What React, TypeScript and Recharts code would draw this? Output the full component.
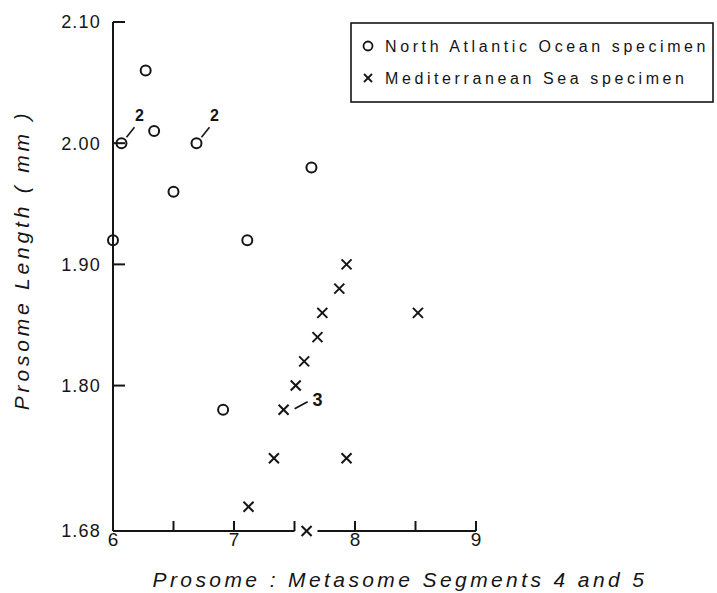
import React from 'react';
import { ScatterChart, Scatter, XAxis, YAxis, ReferenceLine, Label } from 'recharts';

// ---- data ----
const atlanticX = [6.0, 6.07, 6.27, 6.34, 6.5, 6.69, 7.11, 7.64, 6.91];
const atlanticY = [1.92, 2.0, 2.06, 2.01, 1.96, 2.0, 1.92, 1.98, 1.78];
const atlanticNotes = ['', '2', '', '', '', '2', '', '', ''];

const medX = [7.93, 7.87, 7.73, 8.52, 7.69, 7.58, 7.51, 7.41, 7.33, 7.93, 7.12, 7.6];
const medY = [1.9, 1.88, 1.86, 1.86, 1.84, 1.82, 1.8, 1.78, 1.74, 1.74, 1.7, 1.68];
const medNotes = ['', '', '', '', '', '', '', '3', '', '', '', ''];

const xTicks = [6, 6.5, 7, 7.5, 8, 8.5, 9];
const xTickLabels = ['6', '', '7', '', '8', '', '9'];
const yTicks = [1.68, 1.8, 1.9, 2.0, 2.1];
const yTickLabels = ['1.68', '1.80', '1.90', '2.00', '2.10'];
const xDomain = [6, 9];
const yDomain = [1.68, 2.1];
const xAxisGap = [7.5, 7.69];

const seriesNames = ['North Atlantic Ocean specimen', 'Mediterranean Sea specimen'];
const xTitle = 'Prosome : Metasome  Segments  4 and 5';
const yTitle = 'Prosome  Length  ( mm )';

const atlanticData = atlanticX.map((x, i) => ({ x, y: atlanticY[i], note: atlanticNotes[i] }));
const medData = medX.map((x, i) => ({ x, y: medY[i], note: medNotes[i] }));

const INK = '#151515';
const FONT = '"Liberation Sans", Arial, sans-serif';

const CircleShape = (p: any) => {
  const { cx, cy, payload } = p;
  return (
    <g>
      <circle cx={cx} cy={cy} r={5} fill="none" stroke={INK} strokeWidth={2} />
      {payload && payload.note ? (
        <g>
          <line x1={cx + 5} y1={cy - 6} x2={cx + 13} y2={cy - 16} stroke={INK} strokeWidth={1.6} />
          <text x={cx + 18} y={cy - 22} textAnchor="middle" fontSize={16} fontWeight="bold" fontFamily={FONT} fill={INK}>
            {payload.note}
          </text>
        </g>
      ) : null}
    </g>
  );
};

const CrossShape = (p: any) => {
  const { cx, cy, payload } = p;
  return (
    <g>
      <line x1={cx - 5} y1={cy - 5} x2={cx + 5} y2={cy + 5} stroke={INK} strokeWidth={2} />
      <line x1={cx - 5} y1={cy + 5} x2={cx + 5} y2={cy - 5} stroke={INK} strokeWidth={2} />
      {payload && payload.note ? (
        <g>
          <line x1={cx + 11} y1={cy - 1} x2={cx + 24} y2={cy - 8} stroke={INK} strokeWidth={1.8} />
          <text x={cx + 34} y={cy - 4} textAnchor="middle" fontSize={18} fontWeight="bold" fontFamily={FONT} fill={INK}>
            {payload.note}
          </text>
        </g>
      ) : null}
    </g>
  );
};

const XTick = (p: any) => {
  const { x, y, payload } = p;
  const i = xTicks.indexOf(payload.value);
  const lbl = i >= 0 ? xTickLabels[i] : '';
  return (
    <text x={x} y={y} dy="0.71em" textAnchor="middle" fontSize={19} fontFamily={FONT} fill={INK}>
      {lbl}
    </text>
  );
};

const YTick = (p: any) => {
  const { x, y, payload } = p;
  const i = yTicks.indexOf(payload.value);
  const lbl = i >= 0 ? yTickLabels[i] : '';
  return (
    <text x={x + 1} y={y} dy="0.355em" textAnchor="end" fontSize={18} letterSpacing={1.2} fontFamily={FONT} fill={INK}>
      {lbl}
    </text>
  );
};

const LegendBox = () => (
  <svg width={364} height={81} style={{ display: 'block' }}>
    <rect x={1} y={1} width={362} height={79} fill="white" stroke={INK} strokeWidth={1.6} />
    <circle cx={18} cy={24} r={4.5} fill="none" stroke={INK} strokeWidth={1.8} />
    <text x={35} y={30} fontSize={16} letterSpacing={3.6} fontFamily={FONT} fill={INK}>
      {seriesNames[0]}
    </text>
    <line x1={14} y1={52} x2={22} y2={60} stroke={INK} strokeWidth={1.8} />
    <line x1={14} y1={60} x2={22} y2={52} stroke={INK} strokeWidth={1.8} />
    <text x={35} y={62} fontSize={16} letterSpacing={3.6} fontFamily={FONT} fill={INK}>
      {seriesNames[1]}
    </text>
  </svg>
);

export default function App() {
  return (
    <div style={{ position: 'absolute', left: 0, top: 0, width: 717, height: 593, background: 'white' }}>
      <ScatterChart width={717} height={593} margin={{ top: 22, right: 241, bottom: 22, left: 0 }}>
        <XAxis
          type="number"
          dataKey="x"
          domain={xDomain}
          ticks={xTicks}
          interval={0}
          axisLine={false}
          tickLine={{ stroke: INK, strokeWidth: 2 }}
          tickSize={-10}
          tickMargin={12}
          tick={<XTick />}
          height={40}
        >
          <Label
            content={() => (
              <text x={400} y={587} textAnchor="middle" fontSize={21} fontStyle="italic" letterSpacing={3.4} fontFamily={FONT} fill={INK}>
                {xTitle}
              </text>
            )}
          />
        </XAxis>
        <YAxis
          type="number"
          dataKey="y"
          domain={yDomain}
          ticks={yTicks}
          interval={0}
          axisLine={{ stroke: INK, strokeWidth: 2 }}
          tickLine={{ stroke: INK, strokeWidth: 2 }}
          tickSize={-12}
          tickMargin={25}
          tick={<YTick />}
          width={113}
        >
          <Label
            content={() => (
              <text
                transform="translate(29,260) rotate(-90)"
                textAnchor="middle"
                fontSize={21}
                fontStyle="italic"
                letterSpacing={3.8}
                fontFamily={FONT}
                fill={INK}
              >
                {yTitle}
              </text>
            )}
          />
        </YAxis>
        <ReferenceLine
          segment={[{ x: xDomain[0], y: yDomain[0] }, { x: xAxisGap[0], y: yDomain[0] }]}
          stroke={INK}
          strokeWidth={2}
          ifOverflow="visible"
        />
        <ReferenceLine
          segment={[{ x: xAxisGap[1], y: yDomain[0] }, { x: xDomain[1], y: yDomain[0] }]}
          stroke={INK}
          strokeWidth={2}
          ifOverflow="visible"
        />
        <Scatter name={seriesNames[0]} data={atlanticData} shape={<CircleShape />} isAnimationActive={false} />
        <Scatter name={seriesNames[1]} data={medData} shape={<CrossShape />} isAnimationActive={false} />
      </ScatterChart>
      <div style={{ position: 'absolute', left: 350, top: 22 }}>
        <LegendBox />
      </div>
    </div>
  );
}
